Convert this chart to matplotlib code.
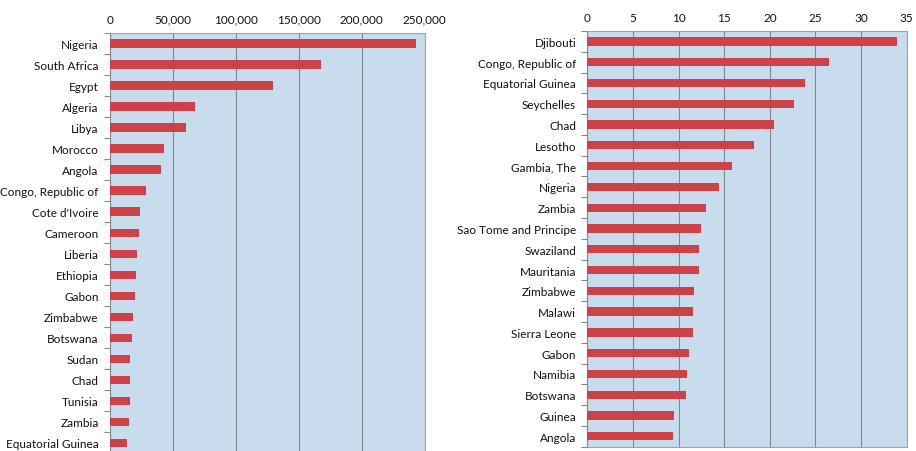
import numpy as np
import matplotlib.pyplot as plt
from matplotlib.ticker import FuncFormatter, FixedLocator

plt.rcParams['font.family'] = ['Lato', 'DejaVu Sans']

# left panel
left_countries = ["Nigeria", "South Africa", "Egypt", "Algeria", "Libya", "Morocco",
                  "Angola", "Congo, Republic of", "Cote d'Ivoire", "Cameroon", "Liberia",
                  "Ethiopia", "Gabon", "Zimbabwe", "Botswana", "Sudan", "Chad", "Tunisia",
                  "Zambia", "Equatorial Guinea"]
left_values = [243000, 167700, 129900, 68000, 60300, 43100, 40500, 28600, 23800, 23000,
               21900, 20600, 20100, 18500, 17900, 16100, 16400, 15900, 15100, 13700]

# right panel
right_countries = ["Djibouti", "Congo, Republic of", "Equatorial Guinea", "Seychelles",
                   "Chad", "Lesotho", "Gambia, The", "Nigeria", "Zambia",
                   "Sao Tome and Principe", "Swaziland", "Mauritania", "Zimbabwe", "Malawi",
                   "Sierra Leone", "Gabon", "Namibia", "Botswana", "Guinea", "Angola"]
right_values = [33.9, 26.5, 23.9, 22.6, 20.4, 18.3, 15.9, 14.4, 13.0, 12.5, 12.2, 12.2,
                11.7, 11.6, 11.55, 11.1, 10.9, 10.8, 9.5, 9.4]

bg = '#c8dcee'
bar_color = '#cf4148'
grid_color = '#7d8896'

fig = plt.figure(figsize=(9.16, 4.52), dpi=100)


def draw_panel(ax, names, vals, xmax, step, fmt):
    y = np.arange(len(names))
    ax.set_facecolor(bg)
    ax.barh(y, vals, height=0.4, color=bar_color, zorder=3)
    ax.set_ylim(len(names) - 0.5, -0.5)
    ax.set_xlim(0, xmax)
    ax.set_yticks(y)
    ax.set_yticklabels(names, fontsize=8.5, color='#111111')
    ax.yaxis.set_minor_locator(FixedLocator(np.arange(len(names) + 1) - 0.5))
    ax.tick_params(axis='y', which='major', length=0, pad=8)
    ax.tick_params(axis='y', which='minor', length=4, color='#888888', width=0.8)
    ax.xaxis.tick_top()
    ax.set_xticks(np.arange(0, xmax + step / 2, step))
    ax.xaxis.set_major_formatter(FuncFormatter(fmt))
    ax.tick_params(axis='x', length=0, labelsize=8.5, pad=6, labelcolor='#111111')
    ax.grid(axis='x', color=grid_color, linewidth=0.8, zorder=1)
    ax.set_axisbelow(True)
    for s in ax.spines.values():
        s.set_color('#9aa5b2')
        s.set_linewidth(0.8)
    ax.spines['left'].set_color('#888888')


ax1 = fig.add_axes([0.1198, -0.0055, 0.3439, 0.9303])
draw_panel(ax1, left_countries, left_values, 250000, 50000, lambda v, p: f"{int(v):,}")

ax2 = fig.add_axes([0.6412, 0.0095, 0.3487, 0.9197])
draw_panel(ax2, right_countries, right_values, 35, 5, lambda v, p: f"{int(v)}")

fig.savefig('out.png', dpi=100, facecolor='white')
